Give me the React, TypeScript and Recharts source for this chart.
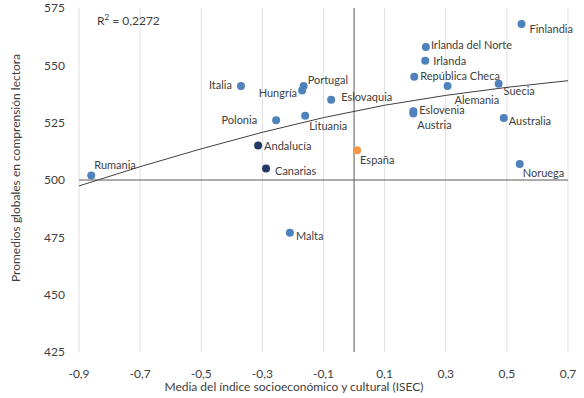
import {
  ScatterChart,
  Scatter,
  XAxis,
  YAxis,
  CartesianGrid,
  ReferenceLine,
} from "recharts";

// countries (blue)
const countries = [
  "Rumania", "Italia", "Hungría", "Portugal", "Polonia", "Lituania", "Malta",
  "Eslovaquia", "Irlanda del Norte", "Irlanda", "República Checa", "Alemania",
  "Suecia", "Finlandia", "Eslovenia", "Austria", "Australia", "Noruega",
];
const countryIsec = [
  -0.86, -0.37, -0.17, -0.165, -0.255, -0.16, -0.21, -0.075, 0.235, 0.233,
  0.197, 0.306, 0.473, 0.548, 0.194, 0.194, 0.49, 0.542,
];
const countryScore = [
  502, 541, 539, 541, 526, 528, 477, 535, 558, 552, 545, 541, 542, 568, 530,
  529, 527, 507,
];

// Spanish regions (navy)
const regions = ["Andalucía", "Canarias"];
const regionIsec = [-0.314, -0.288];
const regionScore = [515, 505];

// Spain (orange)
const spain = ["España"];
const spainIsec = [0.01];
const spainScore = [513];

// trend curve at each x tick
const trendIsec = [-0.9, -0.7, -0.5, -0.3, -0.1, 0.1, 0.3, 0.5, 0.7];
const trendScore = [497.4, 505.8, 513.6, 520.8, 527.2, 532.6, 536.9, 540.4, 543.3];

const xTicks = [-0.9, -0.7, -0.5, -0.3, -0.1, 0.1, 0.3, 0.5, 0.7];
const yTicks = [425, 450, 475, 500, 525, 550, 575];

// label placement around each dot: [dx, dy, anchor]
const labelPlace: Record<string, [number, number, string]> = {
  Rumania: [3, -11, "start"],
  Italia: [-9, -1, "end"],
  Hungría: [-5, 2, "end"],
  Portugal: [4, -6, "start"],
  Polonia: [-19, -1, "end"],
  Lituania: [4, 10, "start"],
  Malta: [6, 3, "start"],
  Eslovaquia: [10, -3, "start"],
  "Irlanda del Norte": [5, -2, "start"],
  Irlanda: [8, 0, "start"],
  "República Checa": [6, -1, "start"],
  Alemania: [7, 14, "start"],
  Suecia: [5, 7, "start"],
  Finlandia: [8, 4, "start"],
  Eslovenia: [6, -2, "start"],
  Austria: [4, 11, "start"],
  Australia: [5, 2, "start"],
  Noruega: [3, 9, "start"],
  Andalucía: [6, 0, "start"],
  Canarias: [9, 2, "start"],
  España: [3, 9, "start"],
};

const toRows = (names: string[], xs: number[], ys: number[]) =>
  names.map((name, i) => ({ name, x: xs[i], y: ys[i] }));

const countryRows = toRows(countries, countryIsec, countryScore);
const regionRows = toRows(regions, regionIsec, regionScore);
const spainRows = toRows(spain, spainIsec, spainScore);
const trendRows = trendIsec.map((x, i) => ({ x, y: trendScore[i] }));

const FONT = "Lato, 'Open Sans', sans-serif";
const fmt = (v: number) => v.toFixed(1).replace(".", ",");

const dot = (color: string) => (props: any) => {
  const { cx, cy, payload } = props;
  const [dx, dy, anchor] = labelPlace[payload.name] ?? [6, 0, "start"];
  return (
    <g>
      <circle cx={cx} cy={cy} r={4} fill={color} />
      <text
        x={cx + dx}
        y={cy + dy}
        textAnchor={anchor as any}
        dominantBaseline="central"
        fontSize={11}
        fontFamily={FONT}
        fill="#404040"
      >
        {payload.name}
      </text>
    </g>
  );
};

export default function App() {
  return (
    <div style={{ position: "absolute", left: 0, top: 0, background: "#fff" }}>
      <ScatterChart
        width={584}
        height={398}
        margin={{ top: 8, right: 16, bottom: 0, left: 19 }}
      >
        <CartesianGrid horizontal={false} stroke="#E0E0E0" />
        <XAxis
          type="number"
          dataKey="x"
          domain={[-0.9, 0.7]}
          ticks={xTicks}
          tickFormatter={fmt}
          axisLine={false}
          tickLine={false}
          tickSize={0}
          tickMargin={17}
          height={46}
          tick={{ fontSize: 12, fill: "#404040", fontFamily: FONT }}
          interval={0}
        />
        <YAxis
          type="number"
          dataKey="y"
          domain={[425, 575]}
          ticks={yTicks}
          axisLine={false}
          tickLine={false}
          tickSize={0}
          tickMargin={14}
          width={60}
          tick={{ fontSize: 12, fill: "#404040", fontFamily: FONT }}
          interval={0}
        />
        <ReferenceLine y={500} stroke="#595959" strokeWidth={1} />
        <ReferenceLine x={0} stroke="#595959" strokeWidth={1} />
        <Scatter
          data={trendRows}
          line={{ stroke: "#404040", strokeWidth: 1 }}
          lineType="joint"
          shape={() => <g />}
          isAnimationActive={false}
        />
        <Scatter data={countryRows} shape={dot("#4F81BD")} isAnimationActive={false} />
        <Scatter data={regionRows} shape={dot("#1F3864")} isAnimationActive={false} />
        <Scatter data={spainRows} shape={dot("#F79646")} isAnimationActive={false} />
        <text x={97} y={25} fontSize={12} fontFamily={FONT} fill="#404040">
          R
          <tspan fontSize={8} dy={-5}>2</tspan>
          <tspan dy={5}> = 0,2272</tspan>
        </text>
        <text
          x={294}
          y={391}
          textAnchor="middle"
          fontSize={12}
          fontFamily={FONT}
          fill="#404040"
        >
          Media del índice socioeconómico y cultural (ISEC)
        </text>
        <text
          x={20}
          y={168}
          textAnchor="middle"
          transform="rotate(-90 20 168)"
          fontSize={12}
          fontFamily={FONT}
          fill="#404040"
        >
          Promedios globales en comprensión lectora
        </text>
      </ScatterChart>
    </div>
  );
}
